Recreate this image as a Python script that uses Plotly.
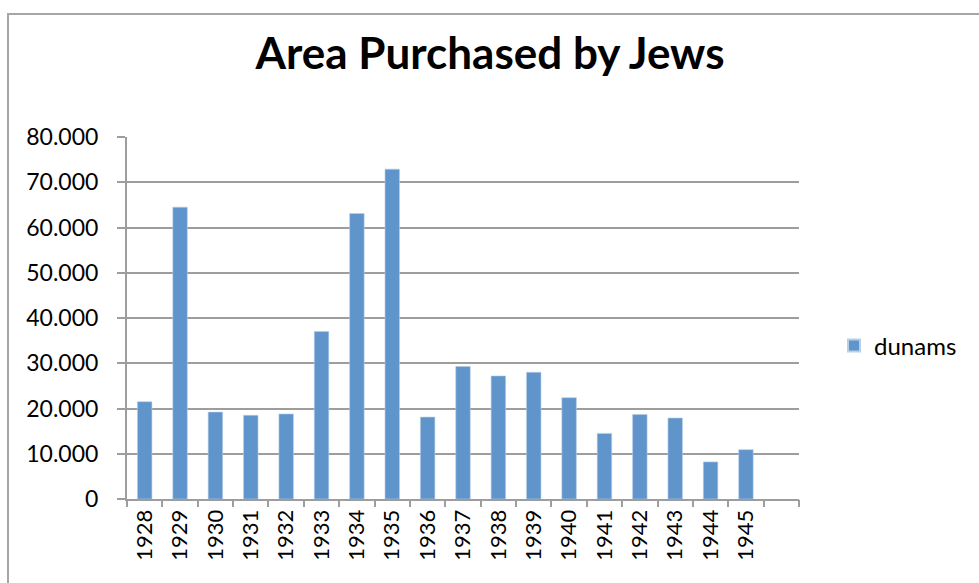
import plotly.graph_objects as go

years = ["1928", "1929", "1930", "1931", "1932", "1933", "1934", "1935", "1936",
         "1937", "1938", "1939", "1940", "1941", "1942", "1943", "1944", "1945"]
dunams = [21500, 64500, 19200, 18500, 18800, 37000, 63100, 72900, 18100,
          29300, 27200, 28000, 22400, 14500, 18700, 17900, 8200, 10900]
y_ticks = [0, 10000, 20000, 30000, 40000, 50000, 60000, 70000, 80000]

FONT = "Lato"
GRID = "#9d9d9d"
positions = list(range(len(years)))
n_slots = len(years) + 1  # one empty slot after the last year

fig = go.Figure()
fig.add_trace(go.Bar(
    x=positions, y=dunams, name="dunams", width=0.41,
    marker=dict(color="#5f95cb", line=dict(color="#b8cfe8", width=0.6)),
))
fig.add_trace(go.Scatter(x=[-0.5, n_slots - 0.5], y=[0, 0], xaxis="x2",
                         mode="none", showlegend=False, hoverinfo="skip"))

fig.update_layout(
    width=979, height=583,
    margin=dict(l=127, r=180, t=137, b=84),
    paper_bgcolor="white", plot_bgcolor="white",
    separators=",.",
    font=dict(family=FONT, color="#000000", size=22),
    title=dict(text="<b>Area Purchased by Jews</b>", x=490 / 979, xref="container",
               xanchor="center", y=1 - 54 / 583, yanchor="middle",
               font=dict(family=FONT, size=44, color="#000000")),
    xaxis=dict(range=[-0.5, n_slots - 0.5], tickmode="array", tickvals=positions,
               ticktext=years, tickangle=-90, ticks="", showgrid=False,
               showline=True, linecolor=GRID, linewidth=2, zeroline=False,
               tickfont=dict(family=FONT, size=22, color="#000000"),
               fixedrange=True),
    xaxis2=dict(range=[-0.5, n_slots - 0.5], overlaying="x", side="bottom",
                tickmode="array", tickvals=[i - 0.5 for i in range(n_slots + 1)],
                ticks="outside", ticklen=7, tickwidth=2, tickcolor=GRID,
                showticklabels=False, showgrid=False, showline=False,
                zeroline=False, anchor="y"),
    yaxis=dict(range=[0, 80000], tickmode="array", tickvals=y_ticks,
               tickformat=",d", ticks="outside", ticklen=8, tickwidth=2,
               tickcolor=GRID, showgrid=True, gridcolor=GRID, gridwidth=2,
               showline=True, linecolor=GRID, linewidth=2, zeroline=False,
               ticklabelstandoff=14,
               tickfont=dict(family=FONT, size=23, color="#000000")),
    legend=dict(x=(834 - 127) / 672, xanchor="left", y=(499 - 346) / 362,
                yanchor="middle", font=dict(family=FONT, size=24, color="#000000"),
                bgcolor="rgba(0,0,0,0)", itemsizing="constant", itemwidth=30),
    showlegend=True,
    shapes=[dict(type="rect", xref="paper", yref="paper",
                 x0=(8 - 127) / 672, x1=(990 - 127) / 672,
                 y0=(499 - 600) / 362, y1=(499 - 14) / 362,
                 line=dict(color="#a6a6a6", width=2), layer="below")],
)

fig.write_html("out.html", config={"displayModeBar": False},
               post_script="document.body.style.margin='0';document.body.style.overflow='hidden';")
